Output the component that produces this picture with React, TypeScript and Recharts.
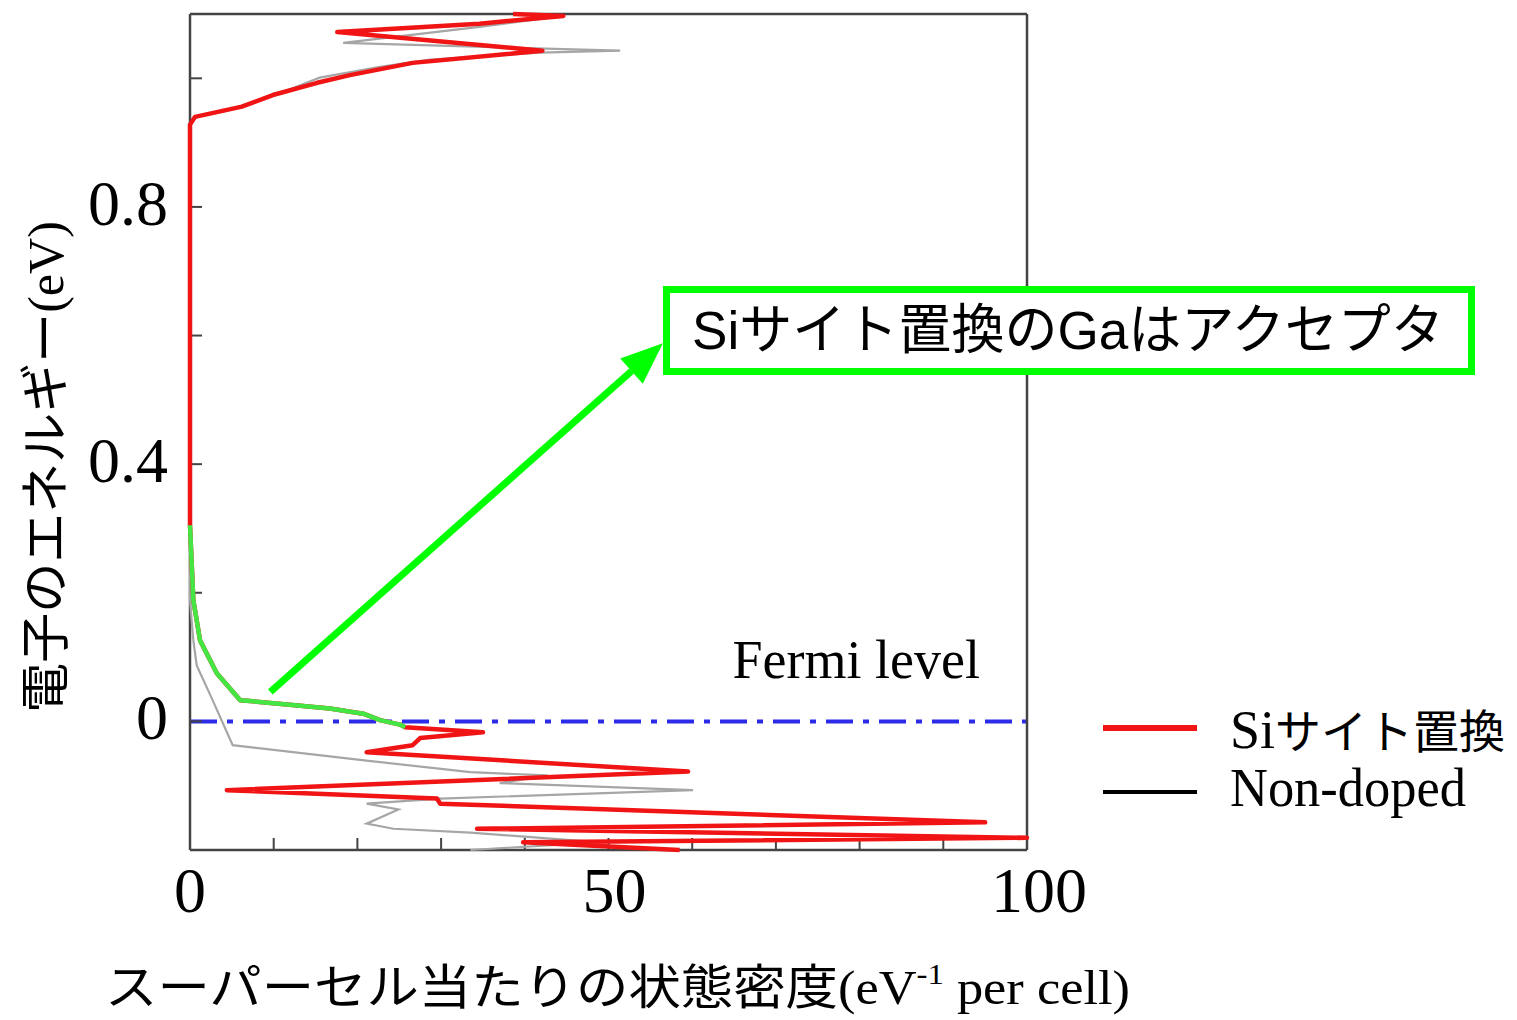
import {
  ScatterChart,
  Scatter,
  XAxis,
  YAxis,
  ReferenceLine,
} from "recharts";

// energy axis (eV) and DOS axis (eV^-1 per cell)
const X_TICKS = [0, 10, 20, 30, 40, 50, 60, 70, 80, 90, 100];
const X_LABELS = [0, 50, 100];
const Y_TICKS = [-0.2, 0, 0.2, 0.4, 0.6, 0.8, 1.0];
const Y_LABELS = [0, 0.4, 0.8];

// Si-site substituted: below the Fermi level
const redLower = [
  { dos: 58.5, e: -0.2 },
  { dos: 39.8, e: -0.188 },
  { dos: 100, e: -0.181 },
  { dos: 34.3, e: -0.167 },
  { dos: 95.0, e: -0.157 },
  { dos: 29.9, e: -0.128 },
  { dos: 29.5, e: -0.12 },
  { dos: 4.4, e: -0.107 },
  { dos: 59.5, e: -0.078 },
  { dos: 21.1, e: -0.048 },
  { dos: 26.6, e: -0.037 },
  { dos: 27.5, e: -0.026 },
  { dos: 35.0, e: -0.017 },
];

// acceptor tail just above the Fermi level (highlighted green)
const acceptorTail = [
  { dos: 25.7, e: -0.009 },
  { dos: 25.1, e: -0.005 },
  { dos: 22.7, e: 0.002 },
  { dos: 20.7, e: 0.012 },
  { dos: 16.7, e: 0.02 },
  { dos: 11.9, e: 0.026 },
  { dos: 6.0, e: 0.033 },
  { dos: 3.2, e: 0.075 },
  { dos: 1.2, e: 0.126 },
  { dos: 0.4, e: 0.188 },
  { dos: 0, e: 0.305 },
];

// Si-site substituted: conduction band
const redUpper = [
  { dos: 0, e: 0.928 },
  { dos: 0.6, e: 0.94 },
  { dos: 6.2, e: 0.956 },
  { dos: 9.9, e: 0.974 },
  { dos: 15.2, e: 0.993 },
  { dos: 19.1, e: 1.005 },
  { dos: 26.6, e: 1.024 },
  { dos: 39.8, e: 1.04 },
  { dos: 42.1, e: 1.043 },
  { dos: 17.6, e: 1.072 },
  { dos: 34.6, e: 1.085 },
  { dos: 44.6, e: 1.097 },
  { dos: 38.6, e: 1.1 },
];

const nonDoped = [
  { dos: 33.5, e: -0.2 },
  { dos: 49.0, e: -0.188 },
  { dos: 33.5, e: -0.173 },
  { dos: 24.3, e: -0.167 },
  { dos: 21.1, e: -0.159 },
  { dos: 24.9, e: -0.137 },
  { dos: 21.1, e: -0.128 },
  { dos: 29.9, e: -0.12 },
  { dos: 60.1, e: -0.107 },
  { dos: 37.0, e: -0.096 },
  { dos: 42.7, e: -0.084 },
  { dos: 33.5, e: -0.079 },
  { dos: 21.1, e: -0.061 },
  { dos: 5.1, e: -0.037 },
  { dos: 2.7, e: 0.033 },
  { dos: 0.8, e: 0.087 },
  { dos: 0.4, e: 0.126 },
  { dos: 0, e: 0.188 },
  { dos: 0, e: 0.928 },
  { dos: 0.6, e: 0.94 },
  { dos: 6.0, e: 0.956 },
  { dos: 10.2, e: 0.974 },
  { dos: 15.5, e: 1.001 },
  { dos: 22.7, e: 1.018 },
  { dos: 28.7, e: 1.029 },
  { dos: 41.8, e: 1.04 },
  { dos: 51.4, e: 1.043 },
  { dos: 18.3, e: 1.055 },
  { dos: 34.6, e: 1.08 },
  { dos: 44.6, e: 1.097 },
];

const ARROW = [
  { x: 9.6, y: 0.046 },
  { x: 56.5, y: 0.588 },
];

const siSite = [...redLower, ...acceptorTail, ...redUpper];

const SERIF = "'Liberation Serif', 'Times New Roman', serif";
const SANS = "'Liberation Sans', Arial, sans-serif";
const CJK = "'Noto Sans CJK JP', sans-serif";
const FRAME = "#444";

const noDot = () => <g />;

const XTick = ({ x, y, payload }: any) =>
  X_LABELS.includes(payload.value) ? (
    <text
      x={x + payload.value * 0.12}
      y={y}
      textAnchor="middle"
      fontFamily={SERIF}
      fontSize={64}
      fill="#000"
    >
      {payload.value}
    </text>
  ) : (
    <g />
  );

const YTick = ({ x, y, payload }: any) =>
  Y_LABELS.includes(Math.round(payload.value * 10) / 10) ? (
    <text x={x} y={y + 18} textAnchor="end" fontFamily={SERIF} fontSize={64} fill="#000">
      {payload.value}
    </text>
  ) : (
    <g />
  );

const Arrow = (p: any) => {
  const { x1, y1, x2, y2 } = p;
  const dx = x2 - x1;
  const dy = y2 - y1;
  const len = Math.sqrt(dx * dx + dy * dy);
  const ux = dx / len;
  const uy = dy / len;
  const headLen = 42;
  const half = 17;
  const bx = x2 - ux * headLen;
  const by = y2 - uy * headLen;
  return (
    <g>
      <line x1={x1} y1={y1} x2={bx} y2={by} stroke="#00ff00" strokeWidth={7} />
      <polygon
        points={`${x2},${y2} ${bx - uy * half},${by + ux * half} ${bx + uy * half},${by - ux * half}`}
        fill="#00ff00"
      />
    </g>
  );
};

const FermiLabel = ({ viewBox }: any) => (
  <text
    x={viewBox.x + viewBox.width - 47}
    y={viewBox.y - 43}
    textAnchor="end"
    fontFamily={SERIF}
    fontSize={54}
    fill="#000"
  >
    Fermi level
  </text>
);

export default function App() {
  return (
    <div
      style={{
        position: "absolute",
        left: 0,
        top: 0,
        width: 1517,
        height: 1020,
        background: "#fff",
      }}
    >
      <ScatterChart
        width={1517}
        height={1020}
        margin={{ top: 4, right: 480, bottom: 70, left: 0 }}
      >
        <XAxis
          type="number"
          dataKey="dos"
          domain={[0, 100]}
          ticks={X_TICKS}
          interval={0}
          height={100}
          tickSize={-12}
          tickMargin={74}
          tick={XTick}
          axisLine={{ stroke: FRAME, strokeWidth: 2.5 }}
          tickLine={{ stroke: FRAME, strokeWidth: 2 }}
        />
        <XAxis
          xAxisId="top"
          orientation="top"
          type="number"
          dataKey="dos"
          domain={[0, 100]}
          ticks={X_TICKS}
          interval={0}
          height={10}
          tickSize={-12}
          tick={false}
          axisLine={{ stroke: FRAME, strokeWidth: 2.5 }}
          tickLine={{ stroke: FRAME, strokeWidth: 2 }}
        />
        <YAxis
          type="number"
          dataKey="e"
          domain={[-0.2, 1.1]}
          ticks={Y_TICKS}
          interval={0}
          width={190}
          tickSize={-12}
          tickMargin={34}
          tick={YTick}
          axisLine={{ stroke: FRAME, strokeWidth: 2.5 }}
          tickLine={{ stroke: FRAME, strokeWidth: 2 }}
        />
        <YAxis
          yAxisId="right"
          orientation="right"
          type="number"
          dataKey="e"
          domain={[-0.2, 1.1]}
          ticks={Y_TICKS}
          interval={0}
          width={10}
          tickSize={-12}
          tick={false}
          axisLine={{ stroke: FRAME, strokeWidth: 2.5 }}
          tickLine={{ stroke: FRAME, strokeWidth: 2 }}
        />

        <ReferenceLine
          y={0}
          stroke="#2b2be8"
          strokeWidth={4}
          strokeDasharray="27 10 6 10"
          label={<FermiLabel />}
        />

        <Scatter
          name="Non-doped"
          data={nonDoped}
          fill="#a6a6a6"
          line={{ stroke: "#a6a6a6", strokeWidth: 2.2 }}
          lineType="joint"
          shape={noDot}
          isAnimationActive={false}
        />
        <Scatter
          name="Siサイト置換"
          data={siSite}
          fill="#f01414"
          line={{ stroke: "#f01414", strokeWidth: 4.5, strokeLinejoin: "round" }}
          lineType="joint"
          shape={noDot}
          isAnimationActive={false}
        />
        <Scatter
          name="acceptor"
          data={acceptorTail}
          fill="#44e644"
          line={{ stroke: "#44e644", strokeWidth: 4.5, strokeLinejoin: "round" }}
          lineType="joint"
          shape={noDot}
          isAnimationActive={false}
        />

        <ReferenceLine segment={ARROW} shape={Arrow} ifOverflow="visible" />
      </ScatterChart>

      <svg
        width={1517}
        height={1020}
        style={{ position: "absolute", left: 0, top: 0, pointerEvents: "none" }}
      >
        {/* y axis title */}
        <text
          transform="translate(63,467) rotate(-90)"
          textAnchor="middle"
          fontSize={50}
          fill="#000"
        >
          <tspan fontFamily={CJK}>電子のエネルギー</tspan>
          <tspan fontFamily={SERIF}>(eV)</tspan>
        </text>

        {/* x axis title */}
        <text x={105} y={1004} fontSize={48} fill="#000" textLength={1025} lengthAdjust="spacingAndGlyphs">
          <tspan fontFamily={CJK}>スーパーセル当たりの状態密度</tspan>
          <tspan fontFamily={SERIF}>(eV</tspan>
          <tspan fontFamily={SERIF} fontSize={30} dy={-20}>-1</tspan>
          <tspan fontFamily={SERIF} dy={20}> per cell)</tspan>
        </text>

        {/* annotation */}
        <rect x={666.5} y={289.5} width={805} height={82} fill="#fff" stroke="#00ff00" strokeWidth={7} />
        <text x={692} y={349} fontSize={54} fill="#000" textLength={752} lengthAdjust="spacingAndGlyphs">
          <tspan fontFamily={SANS}>Si</tspan>
          <tspan fontFamily={CJK}>サイト置換の</tspan>
          <tspan fontFamily={SANS}>Ga</tspan>
          <tspan fontFamily={CJK}>はアクセプタ</tspan>
        </text>

        {/* legend */}
        <line x1={1103} x2={1197} y1={728} y2={728} stroke="#f01414" strokeWidth={6} />
        <line x1={1103} x2={1197} y1={792} y2={792} stroke="#000" strokeWidth={4} />
        <text x={1230} y={748} fill="#000">
          <tspan fontFamily={SERIF} fontSize={54}>Si</tspan>
          <tspan fontFamily={CJK} fontSize={46}>サイト置換</tspan>
        </text>
        <text
          x={1230}
          y={806}
          fontFamily={SERIF}
          fontSize={54}
          fill="#000"
          textLength={236}
          lengthAdjust="spacingAndGlyphs"
        >
          Non-doped
        </text>
      </svg>
    </div>
  );
}
